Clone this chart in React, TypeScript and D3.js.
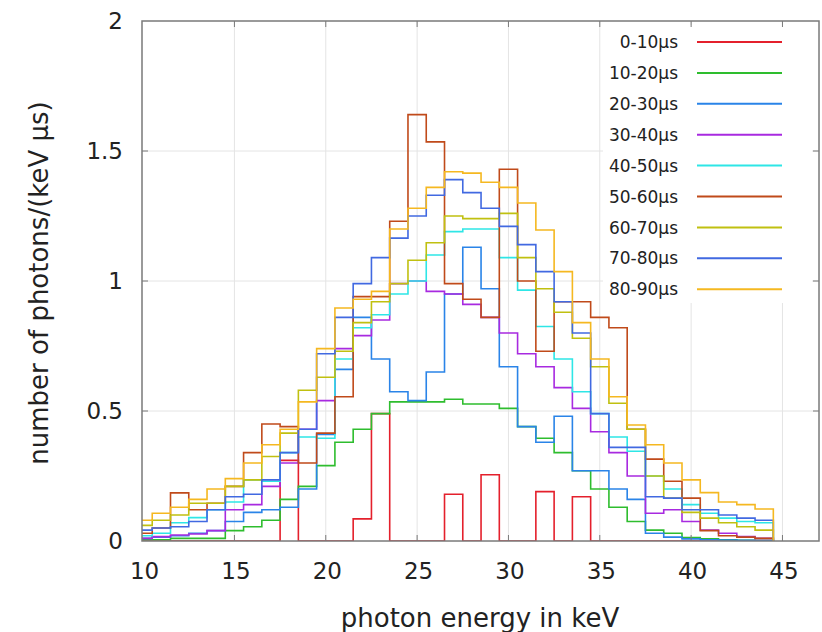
import React from 'react';
import * as d3 from 'd3';

const binCenters = [10, 11, 12, 13, 14, 15, 16, 17, 18, 19, 20, 21, 22, 23, 24, 25, 26, 27, 28, 29, 30, 31, 32, 33, 34, 35, 36, 37, 38, 39, 40, 41, 42, 43, 44];

const seriesLabels = ['0-10µs', '10-20µs', '20-30µs', '30-40µs', '40-50µs', '50-60µs', '60-70µs', '70-80µs', '80-90µs'];
const seriesColors = ['#e4202c', '#2ebd2e', '#2a84e8', '#a82ae0', '#2ee6e6', '#c04a1a', '#c0c010', '#4169e1', '#f5b820'];

const s0to10 = [0, 0, 0, 0, 0, 0, 0, 0, 0.31, 0, 0, 0, 0.085, 0.49, 0, 0, 0, 0.18, 0, 0.255, 0, 0, 0.19, 0, 0.17, 0, 0, 0, 0, 0, 0, 0, 0, 0, 0];
const s10to20 = [0.005, 0.005, 0.01, 0.01, 0.01, 0.04, 0.055, 0.08, 0.16, 0.21, 0.29, 0.38, 0.43, 0.49, 0.535, 0.535, 0.535, 0.545, 0.527, 0.527, 0.51, 0.44, 0.395, 0.34, 0.27, 0.2, 0.13, 0.075, 0.042, 0.03, 0.013, 0.008, 0.005, 0.003, 0.002];
const s20to30 = [0.01, 0.015, 0.02, 0.03, 0.04, 0.075, 0.11, 0.12, 0.13, 0.2, 0.41, 0.66, 0.86, 0.7, 0.574, 0.54, 0.65, 0.95, 1.13, 0.97, 0.67, 0.44, 0.38, 0.48, 0.27, 0.27, 0.2, 0.16, 0.03, 0.015, 0.008, 0.005, 0.004, 0.003, 0.002];
const s30to40 = [0.01, 0.017, 0.023, 0.027, 0.04, 0.12, 0.14, 0.21, 0.3, 0.43, 0.54, 0.74, 0.79, 0.85, 0.99, 1.0, 0.96, 0.95, 0.91, 0.86, 0.8, 0.72, 0.67, 0.59, 0.51, 0.42, 0.34, 0.25, 0.107, 0.12, 0.075, 0.042, 0.03, 0.017, 0.01];
const s40to50 = [0.02, 0.03, 0.07, 0.09, 0.12, 0.15, 0.235, 0.23, 0.34, 0.4, 0.395, 0.7, 0.82, 0.87, 0.95, 1.0, 1.1, 1.19, 1.2, 1.2, 1.09, 0.965, 0.825, 0.7, 0.574, 0.49, 0.4, 0.345, 0.25, 0.2, 0.14, 0.107, 0.088, 0.075, 0.07];
const s50to60 = [0.03, 0.05, 0.185, 0.12, 0.145, 0.21, 0.34, 0.45, 0.44, 0.3, 0.415, 0.555, 0.94, 0.94, 1.23, 1.64, 1.535, 0.99, 0.93, 0.86, 1.43, 1.0, 0.73, 0.92, 0.92, 0.86, 0.82, 0.43, 0.315, 0.23, 0.165, 0.04, 0.02, 0.015, 0.01];
const s60to70 = [0.06, 0.08, 0.1, 0.145, 0.145, 0.21, 0.235, 0.325, 0.415, 0.58, 0.63, 0.73, 0.84, 0.92, 0.99, 1.08, 1.147, 1.25, 1.24, 1.24, 1.26, 1.09, 0.97, 0.88, 0.78, 0.67, 0.53, 0.43, 0.25, 0.165, 0.11, 0.088, 0.07, 0.055, 0.042];
const s70to80 = [0.042, 0.05, 0.055, 0.075, 0.12, 0.17, 0.18, 0.235, 0.34, 0.43, 0.72, 0.86, 0.99, 1.09, 1.165, 1.25, 1.33, 1.39, 1.34, 1.28, 1.21, 1.14, 1.036, 0.92, 0.8, 0.49, 0.36, 0.36, 0.17, 0.165, 0.12, 0.12, 0.1, 0.088, 0.08];
const s80to90 = [0.08, 0.107, 0.13, 0.16, 0.2, 0.24, 0.3, 0.37, 0.43, 0.535, 0.74, 0.896, 0.93, 0.96, 1.2, 1.28, 1.36, 1.42, 1.415, 1.38, 1.36, 1.3, 1.196, 1.036, 0.84, 0.7, 0.555, 0.446, 0.37, 0.3, 0.235, 0.186, 0.15, 0.14, 0.123];

const seriesValues = [s0to10, s10to20, s20to30, s30to40, s40to50, s50to60, s60to70, s70to80, s80to90];

const xTicks = [10, 15, 20, 25, 30, 35, 40, 45];
const yTicks = [0, 0.5, 1, 1.5, 2];
const yTickLabels = ['0', '0.5', '1', '1.5', '2'];

const W = 822;
const H = 632;
const PL = 142, PR = 819, PT = 21, PB = 541;
const FONT = "'DejaVu Sans', Verdana, sans-serif";

export default function App() {
  const x = d3.scaleLinear().domain([9.94, 47]).range([PL, PR]);
  const y = d3.scaleLinear().domain([0, 2]).range([PB, PT]);

  const line = d3.line<[number, number]>().x(d => x(d[0])).y(d => y(d[1]));

  const pathFor = (vals: number[]) => {
    const pts: [number, number][] = [];
    pts.push([binCenters[0] - 0.5, 0]);
    binCenters.forEach((c, i) => {
      pts.push([c - 0.5, vals[i]]);
      pts.push([c + 0.5, vals[i]]);
    });
    pts.push([binCenters[binCenters.length - 1] + 0.5, 0]);
    return line(pts) || '';
  };

  const legendX0 = 603, legendY0 = 25, legendX1 = 812, legendY1 = 303;
  const legendRow0 = 42, legendStep = 30.9;

  return (
    <svg width={W} height={H} style={{ position: 'absolute', left: 0, top: 0, background: '#fff' }} xmlns="http://www.w3.org/2000/svg">
      <defs>
        <clipPath id="plotClip">
          <rect x={PL} y={PT} width={PR - PL} height={PB - PT} />
        </clipPath>
      </defs>
      <rect x={0} y={0} width={W} height={H} fill="#fff" />
      {/* grid */}
      {xTicks.filter(t => t > 10).map(t => (
        <line key={'gx' + t} x1={x(t)} x2={x(t)} y1={PT} y2={PB} stroke="#e4e4e4" strokeWidth={1} />
      ))}
      {yTicks.filter(t => t > 0 && t < 2).map(t => (
        <line key={'gy' + t} x1={PL} x2={PR} y1={y(t)} y2={y(t)} stroke="#e4e4e4" strokeWidth={1} />
      ))}
      {/* legend background covering grid */}
      <rect x={legendX0} y={legendY0} width={legendX1 - legendX0} height={legendY1 - legendY0} fill="#fff" />
      {/* data */}
      <g clipPath="url(#plotClip)">
        {seriesValues.map((vals, i) => (
          <path key={'s' + i} d={pathFor(vals)} fill="none" stroke={seriesColors[i]} strokeWidth={1.6} strokeLinejoin="miter" />
        ))}
      </g>
      {/* border */}
      <rect x={PL} y={PT} width={PR - PL} height={PB - PT} fill="none" stroke="#7a7a7a" strokeWidth={1.5} />
      {/* ticks */}
      {xTicks.filter(t => t > 10).map(t => (
        <g key={'tx' + t}>
          <line x1={x(t)} x2={x(t)} y1={PB} y2={PB - 6} stroke="#7a7a7a" strokeWidth={1} />
          <line x1={x(t)} x2={x(t)} y1={PT} y2={PT + 6} stroke="#7a7a7a" strokeWidth={1} />
        </g>
      ))}
      {yTicks.filter(t => t > 0 && t < 2).map(t => (
        <g key={'ty' + t}>
          <line x1={PL} x2={PL + 6} y1={y(t)} y2={y(t)} stroke="#7a7a7a" strokeWidth={1} />
          <line x1={PR} x2={PR - 6} y1={y(t)} y2={y(t)} stroke="#7a7a7a" strokeWidth={1} />
        </g>
      ))}
      {/* tick labels */}
      {xTicks.map(t => (
        <text key={'lx' + t} x={x(t) + 1.5} y={579} textAnchor="middle" fontFamily={FONT} fontSize={23} fill="#222">{t}</text>
      ))}
      {yTicks.map((t, i) => (
        <text key={'ly' + t} x={123} y={y(t)} dy="0.36em" textAnchor="end" fontFamily={FONT} fontSize={23} fill="#222">{yTickLabels[i]}</text>
      ))}
      {/* axis titles */}
      <text x={480} y={627} textAnchor="middle" fontFamily={FONT} fontSize={26} fill="#222">photon energy in keV</text>
      <text transform={`translate(48,${(PT + PB) / 2 + 2}) rotate(-90)`} textAnchor="middle" fontFamily={FONT} fontSize={26} fill="#222">number of photons/(keV µs)</text>
      {/* legend */}
      {seriesLabels.map((lab, i) => (
        <g key={'lg' + i}>
          <text x={678} y={legendRow0 + i * legendStep} dy="0.36em" textAnchor="end" fontFamily={FONT} fontSize={17} fill="#222">{lab}</text>
          <line x1={697} x2={782} y1={legendRow0 + i * legendStep} y2={legendRow0 + i * legendStep} stroke={seriesColors[i]} strokeWidth={2} />
        </g>
      ))}
    </svg>
  );
}
